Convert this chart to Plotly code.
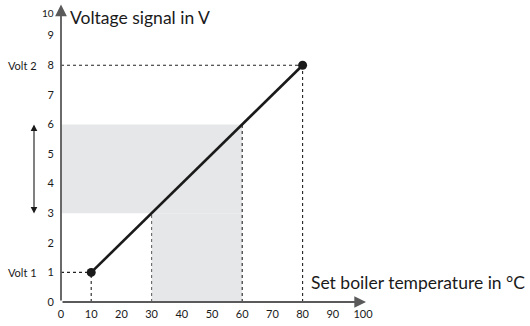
import plotly.graph_objects as go

# Characteristic curve: set boiler temperature -> voltage signal
temps = [10, 80]          # °C
volts = [1, 8]            # V
volt_band = [3, 6]        # signal range shown by the double arrow
temp_band = [30, 60]      # corresponding temperature range
x_ticks = [0, 10, 20, 30, 40, 50, 60, 70, 80, 90, 100]
y_ticks = [0, 1, 2, 3, 4, 5, 6, 7, 8, 9, 10]
volt_labels = ["Volt 1", "Volt 2"]

AXIS = "#5a5a5a"
GREY = "#e6e7e8"
FONT = "Lato, 'Open Sans', sans-serif"

W_PLOT = 302  # plot area size in px (square)

fig = go.Figure()

fig.add_trace(go.Scatter(
    x=temps, y=volts, mode="lines+markers",
    line=dict(color="#1a1a1a", width=2.6),
    marker=dict(color="#1a1a1a", size=9),
    cliponaxis=False, showlegend=False, hoverinfo="skip",
))

shapes = []
# shaded L-shaped region: voltage band and matching temperature band
shapes.append(dict(type="rect", xref="x", yref="y", x0=0, x1=temp_band[1],
                   y0=volt_band[0], y1=volt_band[1], fillcolor=GREY,
                   line=dict(width=0), layer="below"))
shapes.append(dict(type="rect", xref="x", yref="y", x0=temp_band[0], x1=temp_band[1],
                   y0=0, y1=volt_band[0], fillcolor=GREY,
                   line=dict(width=0), layer="below"))

dot = dict(color="#222222", width=1.1, dash="dot")
# guide lines to the end points
for t, v in zip(temps, volts):
    shapes.append(dict(type="line", xref="x", yref="y", x0=0, x1=t, y0=v, y1=v, line=dot, layer="below"))
    shapes.append(dict(type="line", xref="x", yref="y", x0=t, x1=t, y0=0, y1=v, line=dot, layer="below"))
# guide lines at the band edges
shapes.append(dict(type="line", xref="x", yref="y", x0=temp_band[0], x1=temp_band[0],
                   y0=0, y1=volt_band[0], line=dict(color="#666666", width=1.1, dash="dot"), layer="below"))
shapes.append(dict(type="line", xref="x", yref="y", x0=temp_band[1], x1=temp_band[1],
                   y0=0, y1=volt_band[1], line=dot, layer="below"))

annotations = []
# axes drawn as arrows
annotations.append(dict(x=101, y=0, ax=0, ay=0, xref="x", yref="y", axref="x", ayref="y",
                        text="", showarrow=True, arrowhead=2, arrowsize=1.3, arrowwidth=1.8,
                        arrowcolor=AXIS))
annotations.append(dict(x=0, y=10.05, ax=0, ay=0, xref="x", yref="y", axref="x", ayref="y",
                        text="", showarrow=True, arrowhead=2, arrowsize=1.3, arrowwidth=1.8,
                        arrowcolor=AXIS))
# top tick label, set a little lower than the axis tip
annotations.append(dict(x=-0.015, y=(y_ticks[-1] - 0.22) / 10, xref="paper", yref="paper",
                        xanchor="right", yanchor="middle", text=str(y_ticks[-1]), showarrow=False,
                        font=dict(family=FONT, size=10, color="#1a1a1a")))
# double arrow beside the voltage band
band_px = (volt_band[1] - volt_band[0]) / 10 * W_PLOT
annotations.append(dict(x=-27 / W_PLOT, y=volt_band[1] / 10, xref="paper", yref="paper",
                        ax=0, ay=band_px, text="", showarrow=True, arrowhead=2,
                        startarrowhead=2, arrowside="end+start", arrowsize=1.2,
                        startarrowsize=1.2, arrowwidth=1.1, arrowcolor="#1a1a1a"))
# axis titles
annotations.append(dict(x=2.2, y=9.6, xref="x", yref="y", xanchor="left", yanchor="middle",
                        text="Voltage signal in V", showarrow=False,
                        font=dict(family=FONT, size=17.5, color="#1a1a1a")))
annotations.append(dict(x=82.2, y=0.65, xref="x", yref="y", xanchor="left", yanchor="middle",
                        text="Set boiler temperature in °C", showarrow=False,
                        font=dict(family=FONT, size=17.5, color="#1a1a1a")))
# end point labels
for lab, v in zip(volt_labels, volts):
    annotations.append(dict(x=-22 / W_PLOT, y=v / 10, xref="paper", yref="paper",
                            xanchor="right", yanchor="middle", text=lab, showarrow=False,
                            font=dict(family=FONT, size=11, color="#1a1a1a")))

fig.update_layout(
    width=530, height=326,
    margin=dict(l=61, r=167, t=6, b=18),
    paper_bgcolor="white", plot_bgcolor="white",
    shapes=shapes, annotations=annotations,
    font=dict(family=FONT, size=11, color="#1a1a1a"),
    xaxis=dict(range=[0, 100], tickvals=x_ticks, showgrid=False, zeroline=False,
               showline=False, ticks="", ticklabelstandoff=4, fixedrange=True),
    yaxis=dict(range=[0, 10], tickvals=y_ticks[:-1], showgrid=False, zeroline=False,
               showline=False, ticks="", ticklabelstandoff=6, fixedrange=True),
)

fig.write_html("out.html")
